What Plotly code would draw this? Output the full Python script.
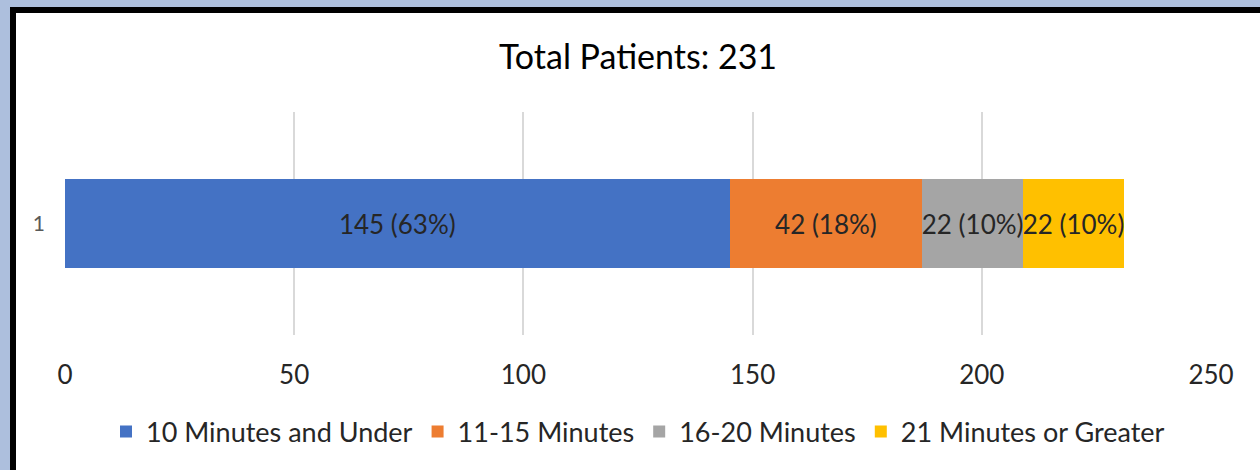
import plotly.graph_objects as go

categories = ["1"]
series_names = ["10 Minutes and Under", "11-15 Minutes", "16-20 Minutes", "21 Minutes or Greater"]
series_values = [[145], [42], [22], [22]]
series_colors = ["#4472C4", "#ED7D31", "#A5A5A5", "#FFC000"]
x_tick_values = [0, 50, 100, 150, 200, 250]
title_text = "Total Patients: 231"

total = sum(v[0] for v in series_values)

W, H = 1260, 470
L, R, T, B = 65, 1211, 112, 335  # plot area in px


def px(x):
    return (x - L) / (R - L)


def py(y):
    return (B - y) / (B - T)


FONT = "Lato, 'Open Sans', sans-serif"

fig = go.Figure()
for name, vals, col in zip(series_names, series_values, series_colors):
    labels = [f"{v} ({round(v / total * 100)}%)" for v in vals]
    fig.add_trace(go.Bar(
        y=categories, x=vals, name=name, orientation="h",
        marker=dict(color=col, line=dict(width=0)),
        text=labels, textposition="inside", insidetextanchor="middle",
        textfont=dict(size=26, color="#262626", family=FONT),
        constraintext="none", cliponaxis=False, hoverinfo="skip",
    ))

shapes = [
    dict(type="rect", xref="paper", yref="paper", layer="below",
         x0=px(10), x1=px(W + 20), y0=py(7), y1=py(H + 20),
         fillcolor="#000000", line=dict(width=0)),
    dict(type="rect", xref="paper", yref="paper", layer="below",
         x0=px(16), x1=px(W + 20), y0=py(13), y1=py(H + 20),
         fillcolor="#FFFFFF", line=dict(width=0)),
]

fig.update_layout(
    width=W, height=H,
    barmode="stack", bargap=0.6,
    paper_bgcolor="#ADBFDD", plot_bgcolor="#FFFFFF",
    margin=dict(l=L, r=W - R, t=T, b=H - B, pad=0),
    font=dict(family=FONT, color="#262626"),
    uniformtext=dict(mode="show", minsize=26),
    title=dict(text=title_text, x=0.5, xref="paper", xanchor="center",
               y=1 - 57 / H, yanchor="middle",
               font=dict(size=34, color="#000000", family=FONT)),
    xaxis=dict(range=[0, 250], tickvals=x_tick_values, showgrid=True,
               gridcolor="#D9D9D9", gridwidth=1.5, zeroline=False,
               showline=False, ticks="", ticklabelstandoff=22,
               tickfont=dict(size=26, color="#262626", family=FONT)),
    yaxis=dict(showgrid=False, zeroline=False, showline=False, ticks="",
               ticklabelstandoff=19,
               tickfont=dict(size=21, color="#595959", family=FONT)),
    legend=dict(orientation="h", x=0.5, xanchor="center", y=py(432), yanchor="middle",
                font=dict(size=27, color="#262626", family=FONT),
                bgcolor="rgba(0,0,0,0)", itemwidth=30, traceorder="normal"),
    shapes=shapes,
    showlegend=True,
)

fig.write_html("out.html", config={"displayModeBar": False},
               post_script="document.body.style.margin='0';")
